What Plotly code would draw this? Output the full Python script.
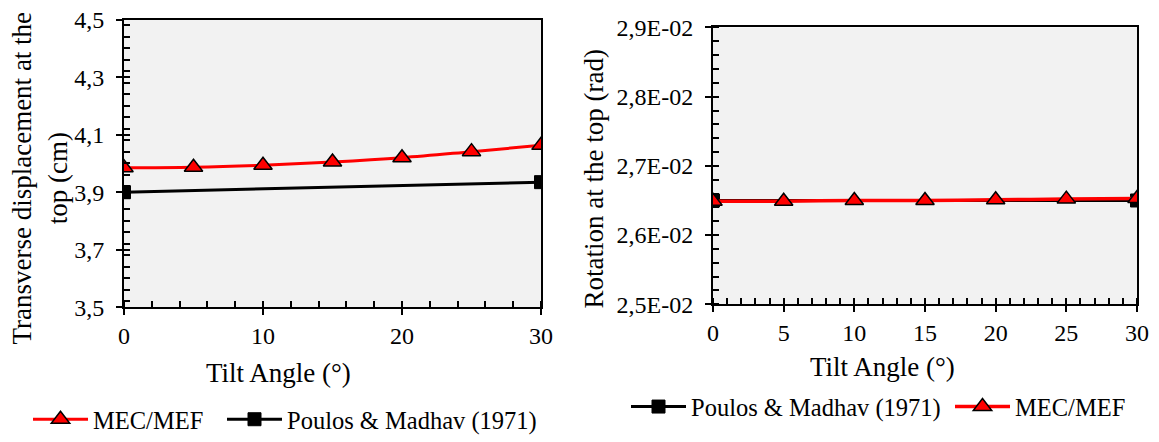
import plotly.graph_objects as go

# ---------------- data ----------------
tilt_angles = [0, 5, 10, 15, 20, 25, 30]
mec_disp = [3.985, 3.987, 3.994, 4.005, 4.020, 4.041, 4.063]
poulos_angles = [0, 30]
poulos_disp = [3.900, 3.935]

mec_rot = [0.02649, 0.02649, 0.02650, 0.02650, 0.02651, 0.02652, 0.02653]
poulos_rot = [0.02650, 0.02650]

rot_tickvals = [0.025, 0.026, 0.027, 0.028, 0.029]
rot_ticktext = ["2,5E-02", "2,6E-02", "2,7E-02", "2,8E-02", "2,9E-02"]

# ---------------- style ----------------
FONT = "Liberation Serif"
RED = "#FF0000"
BLACK = "#000000"
OFF = 8  # default body margin of the html page
W, H = 1159 - OFF, 442 - OFF


def px_x(p):
    return (p - OFF) / W


def px_y(p):
    return (H - (p - OFF)) / H


fig = go.Figure()

tri = dict(symbol="triangle-up", size=16, color=RED, line=dict(color=BLACK, width=1.5))
sq = dict(symbol="square", size=13, color=BLACK, line=dict(color=BLACK, width=1))

# left panel
fig.add_trace(go.Scatter(x=tilt_angles, y=mec_disp, mode="lines+markers", name="MEC/MEF",
                         line=dict(color=RED, width=3, shape="spline"), marker=tri,
                         xaxis="x", yaxis="y", legend="legend"))
fig.add_trace(go.Scatter(x=poulos_angles, y=poulos_disp, mode="lines+markers",
                         name="Poulos & Madhav (1971)",
                         line=dict(color=BLACK, width=3), marker=sq,
                         xaxis="x", yaxis="y", legend="legend2"))
# right panel
fig.add_trace(go.Scatter(x=poulos_angles, y=poulos_rot, mode="lines+markers",
                         name="Poulos & Madhav (1971)",
                         line=dict(color=BLACK, width=3), marker=sq,
                         xaxis="x2", yaxis="y2", legend="legend3"))
fig.add_trace(go.Scatter(x=tilt_angles, y=mec_rot, mode="lines+markers", name="MEC/MEF",
                         line=dict(color=RED, width=3.5, shape="spline"), marker=tri,
                         xaxis="x2", yaxis="y2", legend="legend4"))

xdom1 = [px_x(124), px_x(541)]
ydom1 = [px_y(315), px_y(20)]
xdom2 = [px_x(713), px_x(1137)]
ydom2 = [px_y(312), px_y(28)]

tickfont = dict(family=FONT, size=24, color=BLACK)
titlefont = dict(family=FONT, size=27, color=BLACK)
legfont = dict(family=FONT, size=24.5, color=BLACK)

common = dict(showline=True, linecolor=BLACK, linewidth=2, mirror=True,
              showgrid=False, zeroline=False, ticks="outside", ticklen=6,
              tickwidth=2, tickcolor=BLACK, tickfont=tickfont, automargin=False,
              ticklabeloverflow="allow")


def leg(xpix, ypix):
    return dict(orientation="h", x=px_x(xpix), xanchor="left", y=px_y(ypix),
                yanchor="middle", font=legfont, bgcolor="rgba(0,0,0,0)", itemwidth=55)


fig.update_layout(
    width=W, height=H, autosize=False,
    margin=dict(l=0, r=0, t=0, b=0),
    paper_bgcolor="white",
    plot_bgcolor="#F2F2F2",
    separators=",.",
    font=dict(family=FONT, color=BLACK, size=24),
    xaxis=dict(domain=xdom1, anchor="y", range=[0, 30], dtick=10, tick0=0,
               minor=dict(dtick=2, ticks="inside", ticklen=6, tickwidth=2, tickcolor=BLACK),
               **common),
    yaxis=dict(domain=ydom1, anchor="x", range=[3.5, 4.5], dtick=0.2, tick0=3.5,
               tickformat=".1f", ticklabelstandoff=7,
               minor=dict(dtick=0.04, ticks="inside", ticklen=6, tickwidth=2, tickcolor=BLACK),
               **common),
    xaxis2=dict(domain=xdom2, anchor="y2", range=[0, 30], dtick=5, tick0=0,
                minor=dict(dtick=1, ticks="inside", ticklen=6, tickwidth=2, tickcolor=BLACK),
                **common),
    yaxis2=dict(domain=ydom2, anchor="x2", range=[0.025, 0.029],
                tickvals=rot_tickvals, ticktext=rot_ticktext, ticklabelstandoff=7,
                minor=dict(dtick=0.0002, tick0=0.025, ticks="inside", ticklen=6, tickwidth=2,
                           tickcolor=BLACK),
                **common),
    # overlay axes to draw the inside half of the crossing major ticks
    xaxis3=dict(domain=xdom1, anchor="y", overlaying="x", matches="x", range=[0, 30],
                dtick=10, tick0=0, ticks="inside", ticklen=6, tickwidth=2, tickcolor=BLACK,
                showticklabels=False, showline=False, showgrid=False, zeroline=False),
    yaxis3=dict(domain=ydom1, anchor="x", overlaying="y", matches="y", range=[3.5, 4.5],
                dtick=0.2, tick0=3.5, ticks="inside", ticklen=6, tickwidth=2, tickcolor=BLACK,
                showticklabels=False, showline=False, showgrid=False, zeroline=False),
    xaxis4=dict(domain=xdom2, anchor="y2", overlaying="x2", matches="x2", range=[0, 30],
                dtick=5, tick0=0, ticks="inside", ticklen=6, tickwidth=2, tickcolor=BLACK,
                showticklabels=False, showline=False, showgrid=False, zeroline=False),
    yaxis4=dict(domain=ydom2, anchor="x2", overlaying="y2", matches="y2", range=[0.025, 0.029],
                tickvals=rot_tickvals, ticks="inside", ticklen=6, tickwidth=2, tickcolor=BLACK,
                showticklabels=False, showline=False, showgrid=False, zeroline=False),
    legend=leg(28, 430),
    legend2=leg(222, 430),
    legend3=leg(626, 417),
    legend4=leg(950, 417),
)

# axis titles (placed like the original)
fig.add_annotation(text="Transverse displacement at the<br>top (cm)", textangle=-90,
                   x=px_x(40), y=px_y(183), xref="paper", yref="paper",
                   xanchor="center", yanchor="middle", showarrow=False, font=titlefont,
                   align="center")
fig.add_annotation(text="Rotation at the top (rad)", textangle=-90,
                   x=px_x(594), y=px_y(184), xref="paper", yref="paper",
                   xanchor="center", yanchor="middle", showarrow=False, font=titlefont)
fig.add_annotation(text="Tilt Angle (°)", x=px_x(278), y=px_y(382), xref="paper",
                   yref="paper", xanchor="center", yanchor="middle", showarrow=False,
                   font=titlefont)
fig.add_annotation(text="Tilt Angle (°)", x=px_x(882), y=px_y(376), xref="paper",
                   yref="paper", xanchor="center", yanchor="middle", showarrow=False,
                   font=titlefont)

# dummy invisible traces so the overlay axes render
fig.add_trace(go.Scatter(x=[None], y=[None], xaxis="x3", yaxis="y3", showlegend=False,
                         hoverinfo="skip"))
fig.add_trace(go.Scatter(x=[None], y=[None], xaxis="x4", yaxis="y4", showlegend=False,
                         hoverinfo="skip"))

fig.write_html("out.html")
